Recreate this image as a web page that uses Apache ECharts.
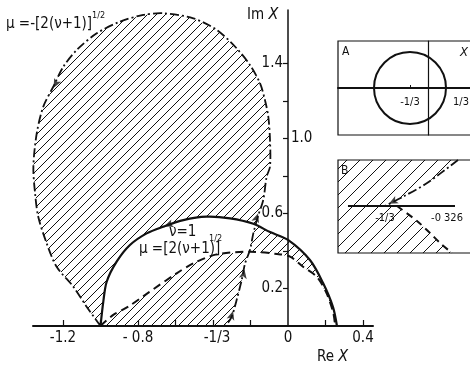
<!DOCTYPE html>
<html><head><meta charset="utf-8">
<script src="https://cdn.jsdelivr.net/npm/echarts@6.0.0/dist/echarts.min.js"></script>
<style>html,body{margin:0;padding:0;background:#fff}#c{width:470px;height:369px}</style>
</head><body><div id="c"></div>
<script>
// ---------- data ----------
const solidCurve = [[-1.0,0],[-0.985,0.13],[-0.967,0.236],[-0.914,0.343],[-0.843,0.432],[-0.754,0.494],[-0.665,0.53],[-0.558,0.565],[-0.434,0.583],[-0.309,0.574],[-0.185,0.545],[-0.096,0.501],[0,0.459],[0.117,0.352],[0.187,0.229],[0.24,0.101],[0.261,0]];
const dashedCurve = [[-1,0],[-0.932,0.059],[-0.852,0.103],[-0.763,0.165],[-0.594,0.281],[-0.505,0.334],[-0.38,0.382],[-0.203,0.396],[-0.059,0.384],[0.011,0.37],[0.08,0.316],[0.153,0.263],[0.206,0.174],[0.242,0.068],[0.251,0]];
const dashDotCurve = [[-1,0],[-1.074,0.103],[-1.145,0.21],[-1.234,0.316],[-1.287,0.441],[-1.332,0.583],[-1.349,0.708],[-1.358,0.85],[-1.34,1.028],[-1.305,1.17],[-1.252,1.276],[-1.198,1.383],[-1.127,1.472],[-1.02,1.561],[-0.896,1.623],[-0.772,1.659],[-0.665,1.668],[-0.505,1.641],[-0.38,1.579],[-0.274,1.481],[-0.203,1.392],[-0.149,1.294],[-0.123,1.205],[-0.105,1.116],[-0.096,0.992],[-0.096,0.85],[-0.114,0.796],[-0.132,0.672],[-0.158,0.592],[-0.185,0.494],[-0.203,0.405],[-0.229,0.334],[-0.247,0.245],[-0.274,0.139],[-0.3,0.05],[-1/3,0]];
const lensCrossSolid = [-0.172,0.54];
const lensCrossDashed = [-0.21,0.395];
const mainArrows = [[-1.25,1.27,153],[-0.16,0.6,-18],[-0.232,0.3,-11],[-0.293,0.08,-17],[-0.66,0.532,110]];

const xTickValues = [-1.2,-1.0,-0.8,-0.6,-0.4,-0.2,0.2,0.4];
const xLabelValues = [-1.2,-0.8,-1/3,0,0.4];
const xLabelTexts = ['-1.2','- 0.8','-1/3','0','0.4'];
const yTickValues = [0.2,0.4,0.6,0.8,1.0,1.2,1.4];
const yLabelValues = [0.2,0.6,1.4];

const insetACircle = [[-1/3,0,2/3]];
const insetALabelValues = [-1/3,1/3];
const insetALabelTexts = ['-1/3','1/3'];

const insetBAxis = [[-0.33827,0],[-0.32400,0]];
const insetBDashDot = [[-0.32360,0.00613],[-0.32777,0.00303],[-0.33093,0.00124],[-0.33333,0]];
const insetBDashed = [[-0.33173,0],[-0.32907,-0.0020],[-0.32733,-0.0036],[-0.32600,-0.00493],[-0.32440,-0.00627]];
const insetBLabelValues = [-1/3,-0.326];
const insetBLabelTexts = ['-1/3','-0 326'];
const insetBArrows = [[-0.3328,0.0003,117]];

// ---------- helpers ----------
const FF = '"DejaVu Sans Condensed","Liberation Sans Narrow","Liberation Sans",sans-serif';
function hatch(p, lw){
  const c=document.createElement('canvas'); c.width=p; c.height=p;
  const g=c.getContext('2d'); g.strokeStyle='#111'; g.lineWidth=lw;
  g.beginPath();
  g.moveTo(-1,p+1); g.lineTo(p+1,-1);
  g.moveTo(-1,1); g.lineTo(1,-1);
  g.moveTo(p-1,p+1); g.lineTo(p+1,p-1);
  g.stroke(); return c;
}
const hatchMain = {image:hatch(9,1), repeat:'repeat'};
const hatchB = {image:hatch(13,1), repeat:'repeat'};

function shape(name, pts, axis, kind, style, z, smooth){
  return {type:'custom', name, xAxisIndex:axis, yAxisIndex:axis, z, silent:true, clip:false,
    data: pts.map(p=>[p[0],p[1]]), encode:{x:0,y:1},
    renderItem:(params, api)=>{
      if(params.dataIndex!==0) return null;
      const pix = pts.map(p=>api.coord([p[0],p[1]]));
      const sh = {points:pix}; if(smooth) sh.smooth = smooth;
      return {type:kind, shape:sh, style};
    }};
}
function arrows(list, axis){
  return {type:'scatter', xAxisIndex:axis, yAxisIndex:axis, z:20, silent:true, symbol:'arrow', symbolSize:[6,9],
    itemStyle:{color:'#111'},
    data:list.map(a=>({value:[a[0],a[1]], symbolRotate:a[2]}))};
}
const lineStyle = (dash, w)=>({stroke:'#111', fill:null, lineWidth:w, lineDash:dash||null});

const loopPoly = dashDotCurve.slice();
const lensPoly = solidCurve.concat(dashedCurve.slice().reverse());
const lensRightPoly = [lensCrossSolid].concat(solidCurve.filter(p=>p[0]>lensCrossSolid[0]), dashedCurve.filter(p=>p[0]>lensCrossDashed[0]).reverse(), [lensCrossDashed]);
const bHatchPoly = [[-0.3396,0.00613]].concat(insetBDashDot, insetBDashed, [[-0.3396,-0.00627]]);

function lbl(values, texts){ return v=>{ const i=values.findIndex(u=>Math.abs(u-v)<1e-6); return i>=0?texts[i]:''; }; }

const chart = echarts.init(document.getElementById('c'), null, {renderer:'canvas'});
chart.setOption({
  animation:false, backgroundColor:'#fff',
  grid:[
    {left:33, top:10, width:340, height:316, outerBoundsMode:'none', containLabel:false},
    {left:338, top:41, width:135, height:94, outerBoundsMode:'none', containLabel:false, show:true, borderColor:'#111', borderWidth:1.2, backgroundColor:'transparent'},
    {left:338, top:160, width:135, height:93, outerBoundsMode:'none', containLabel:false, show:true, borderColor:'#111', borderWidth:1.2, backgroundColor:'transparent'}
  ],
  xAxis:[
    {gridIndex:0, type:'value', min:-1.36, max:0.4533, z:10, splitLine:{show:false},
     axisLine:{onZero:true, lineStyle:{color:'#111', width:2}},
     axisTick:{inside:true, length:6, customValues:xTickValues, lineStyle:{color:'#111', width:1.2}},
     axisLabel:{customValues:xLabelValues, color:'#111', fontSize:15, fontFamily:FF, margin:5,
       formatter:v=>{ const t=lbl(xLabelValues,xLabelTexts)(v); return Math.abs(v+1/3)<1e-6 ? '{s|'+t+'}' : t; },
       rich:{s:{fontSize:15, fontFamily:FF, color:'#111', padding:[0,17,0,0]}}}},
    {gridIndex:1, type:'value', min:-1.6667, max:0.8333, splitLine:{show:false},
     axisLine:{onZero:true, lineStyle:{color:'#111', width:2}},
     axisTick:{inside:true, length:3, customValues:[-1/3], lineStyle:{color:'#111'}},
     axisLabel:{customValues:insetALabelValues, color:'#111', fontSize:11, fontFamily:FF, margin:-38,
       formatter:v=>{ const t=lbl(insetALabelValues,insetALabelTexts)(v); return v>0 ? '{r|'+t+'}' : t; },
       rich:{r:{fontSize:11, fontFamily:FF, color:'#111', padding:[0,0,0,30]}}}},
    {gridIndex:2, type:'value', min:-0.3396, max:-0.3216, splitLine:{show:false},
     axisLine:{show:false, onZero:true}, axisTick:{show:false},
     axisLabel:{customValues:insetBLabelValues, color:'#111', fontSize:11, fontFamily:FF, margin:-40,
       formatter:v=>{ const t=lbl(insetBLabelValues,insetBLabelTexts)(v); return v>-0.33 ? '{r|'+t+'}' : t; },
       rich:{r:{fontSize:11, fontFamily:FF, color:'#111', padding:[0,0,0,14]}}}}
  ],
  yAxis:[
    {gridIndex:0, type:'value', min:0, max:1.6853, z:10, splitLine:{show:false},
     axisLine:{onZero:true, lineStyle:{color:'#111', width:1.5}},
     axisTick:{inside:false, length:5, customValues:yTickValues, lineStyle:{color:'#111', width:1.2}},
     axisLabel:{customValues:yLabelValues, formatter:v=>v.toFixed(1), color:'#111', fontSize:15, fontFamily:FF, margin:-250}},
    {gridIndex:1, type:'value', min:-0.8704, max:0.8704, splitLine:{show:false},
     axisLine:{onZero:true, lineStyle:{color:'#111', width:1.2}}, axisTick:{show:false}, axisLabel:{show:false}},
    {gridIndex:2, type:'value', min:-0.006267, max:0.006133, splitLine:{show:false},
     axisLine:{show:false}, axisTick:{show:false}, axisLabel:{show:false}}
  ],
  series:[
    shape('loopHatch', loopPoly, 0, 'polygon', {fill:hatchMain}, 1),
    shape('lensWhite', lensPoly, 0, 'polygon', {fill:'#fff'}, 2),
    shape('lensRightHatch', lensRightPoly, 0, 'polygon', {fill:hatchMain}, 3),
    shape('nu1', solidCurve, 0, 'polyline', lineStyle(null,2.2), 5, 0.3),
    shape('muPlus', dashedCurve, 0, 'polyline', lineStyle([8,5],2), 5, 0.3),
    shape('muMinus', dashDotCurve, 0, 'polyline', lineStyle([9,3,2,3],1.8), 5, 0.3),
    arrows(mainArrows, 0),
    {type:'custom', xAxisIndex:1, yAxisIndex:1, z:5, silent:true, clip:false, data:insetACircle,
     renderItem:(params, api)=>{
       const c = api.coord([api.value(0), api.value(1)]);
       const r = api.size([api.value(2), 0])[0];
       return {type:'circle', shape:{cx:c[0], cy:c[1], r}, style:{stroke:'#111', fill:null, lineWidth:2}};
     }},
    shape('bHatch', bHatchPoly, 2, 'polygon', {fill:hatchB}, 1),
    shape('bAxis', insetBAxis, 2, 'polyline', lineStyle(null,2), 5),
    shape('bDashDot', insetBDashDot, 2, 'polyline', lineStyle([9,3,2,3],1.8), 5, 0.3),
    shape('bDashed', insetBDashed, 2, 'polyline', lineStyle([7,5],2), 5, 0.3),
    arrows(insetBArrows, 2)
  ],
  graphic:[
    {type:'text', z:100, x:6, y:17, style:{text:'μ =-[2(ν+1)]', font:'15px '+FF, fill:'#111'}},
    {type:'text', z:100, x:92, y:11, style:{text:'1/2', font:'9px '+FF, fill:'#111'}},
    {type:'text', z:100, x:169, y:225, style:{text:'ν=1', font:'15px '+FF, fill:'#111'}},
    {type:'text', z:100, x:139, y:242, style:{text:'μ =[2(ν+1)]', font:'15px '+FF, fill:'#111'}},
    {type:'text', z:100, x:209, y:234, style:{text:'1/2', font:'9px '+FF, fill:'#111'}},
    {type:'text', z:100, x:247, y:7, style:{text:'{a|Im }{b|X}', rich:{a:{font:'15px '+FF, fill:'#111'}, b:{font:'italic 16px '+FF, fill:'#111'}}}},
    {type:'text', z:100, x:317, y:349, style:{text:'{a|Re }{b|X}', rich:{a:{font:'15px '+FF, fill:'#111'}, b:{font:'italic 16px '+FF, fill:'#111'}}}},
    {type:'text', z:100, x:291, y:131, style:{text:'1.0', font:'15px '+FF, fill:'#111'}},
    {type:'text', z:100, x:342, y:46, style:{text:'A', font:'12px '+FF, fill:'#111'}},
    {type:'text', z:100, x:460, y:46, style:{text:'X', font:'italic 13px '+FF, fill:'#111'}},
    {type:'text', z:100, x:341, y:165, style:{text:'B', font:'12px '+FF, fill:'#111'}}
  ]
});
</script></body></html>
